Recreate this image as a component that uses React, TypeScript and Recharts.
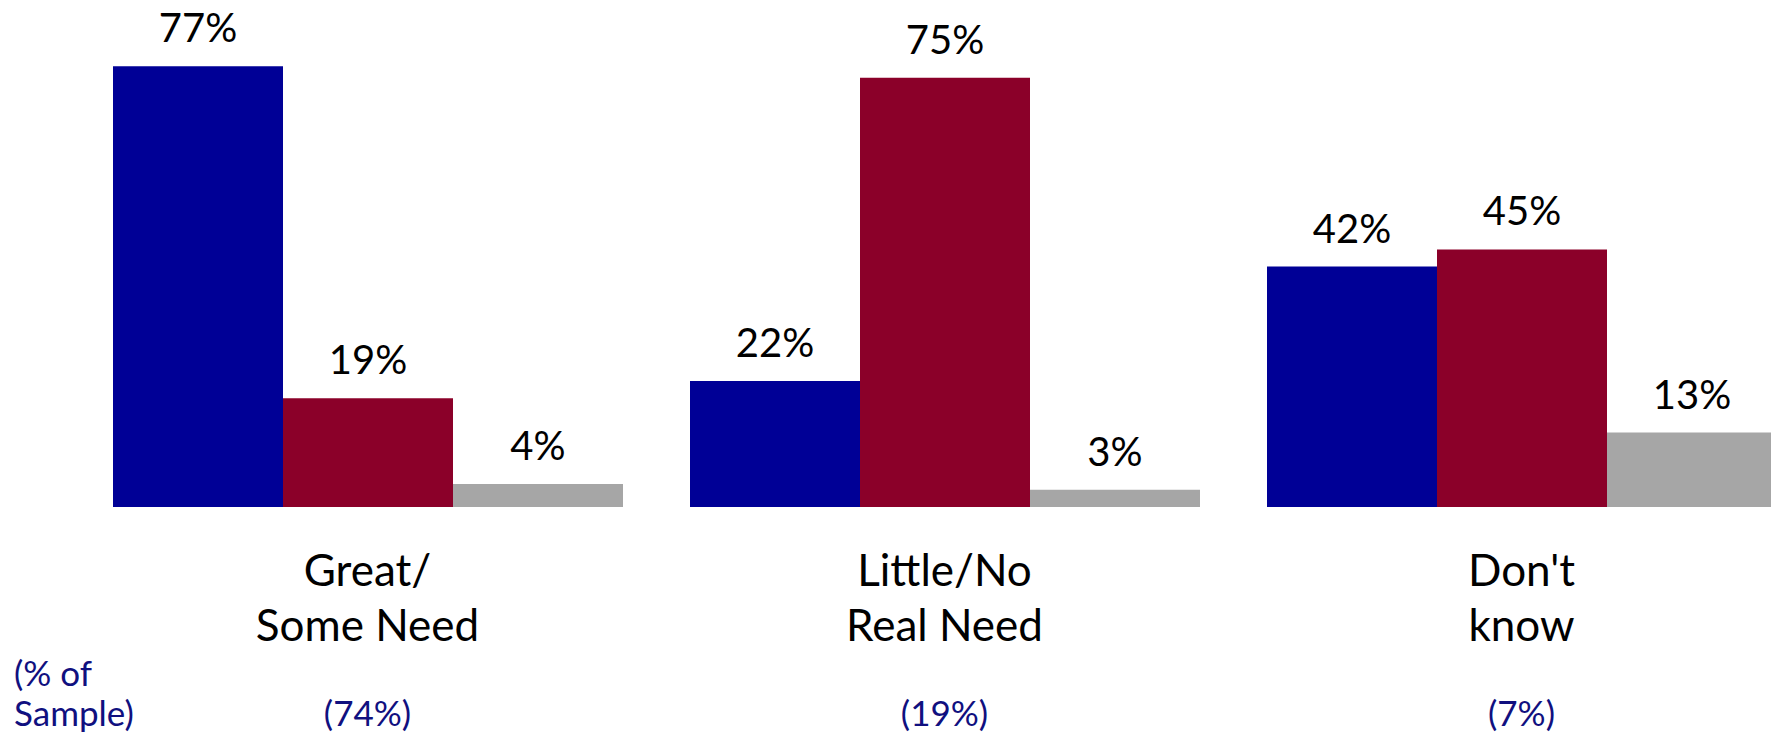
import { BarChart, Bar, XAxis, YAxis, LabelList } from 'recharts';

const CATEGORIES = ['Great/ Some Need', 'Little/No Real Need', "Don't know"];
const CATEGORY_LINES = [
  ['Great/', 'Some Need'],
  ['Little/No', 'Real Need'],
  ["Don't", 'know'],
];
const SAMPLE_SHARE = ['(74%)', '(19%)', '(7%)'];

// three answer groups per category
const SERIES_BLUE = [77, 22, 42];
const SERIES_RED = [19, 75, 45];
const SERIES_GRAY = [4, 3, 13];

const Y_DOMAIN = [0, 80];

const FONT = 'Lato, "Open Sans", sans-serif';
const NAVY = '#10107f';

const data = CATEGORIES.map((name, i) => ({
  name,
  blue: SERIES_BLUE[i],
  red: SERIES_RED[i],
  gray: SERIES_GRAY[i],
}));

function CategoryTick(props: any) {
  const { x, y, payload } = props;
  const i = CATEGORIES.indexOf(payload.value);
  const lines = CATEGORY_LINES[i] || [payload.value];
  return (
    <g>
      {lines.map((line, k) => (
        <text
          key={k}
          x={x}
          y={y + 79 + k * 55}
          textAnchor="middle"
          fontFamily={FONT}
          fontSize={44}
          fill="#000"
        >
          {line}
        </text>
      ))}
      <text x={x} y={y + 219} textAnchor="middle" fontFamily={FONT} fontSize={35} fill={NAVY}>
        {SAMPLE_SHARE[i]}
      </text>
    </g>
  );
}

const pct = (v: any) => `${v}%`;

export default function App() {
  return (
    <div style={{ position: 'absolute', left: 0, top: 0, width: 1771, height: 734, overflow: 'hidden', background: '#fff' }}>
      <BarChart
        width={1810}
        height={734}
        data={data}
        margin={{ top: 49, right: 0, bottom: 47, left: 79 }}
        barGap={0}
      >
        <XAxis
          dataKey="name"
          height={180}
          axisLine={false}
          tickLine={false}
          tickSize={0}
          tickMargin={0}
          interval={0}
          tick={<CategoryTick />}
        />
        <YAxis hide width={0} domain={Y_DOMAIN} />
        <Bar dataKey="blue" fill="#000096" barSize={170} isAnimationActive={false}>
          <LabelList dataKey="blue" position="top" offset={24} formatter={pct} fontFamily={FONT} fontSize={40} fill="#000" />
        </Bar>
        <Bar dataKey="red" fill="#8b0029" barSize={170} isAnimationActive={false}>
          <LabelList dataKey="red" position="top" offset={24} formatter={pct} fontFamily={FONT} fontSize={40} fill="#000" />
        </Bar>
        <Bar dataKey="gray" fill="#a6a6a6" barSize={170} isAnimationActive={false}>
          <LabelList dataKey="gray" position="top" offset={24} formatter={pct} fontFamily={FONT} fontSize={40} fill="#000" />
        </Bar>
      </BarChart>
      <svg width={200} height={100} style={{ position: 'absolute', left: 0, top: 640 }}>
        <text x={14} y={46} fontFamily={FONT} fontSize={35} fill={NAVY}>(% of</text>
        <text x={14} y={86} fontFamily={FONT} fontSize={35} fill={NAVY}>Sample)</text>
      </svg>
    </div>
  );
}
